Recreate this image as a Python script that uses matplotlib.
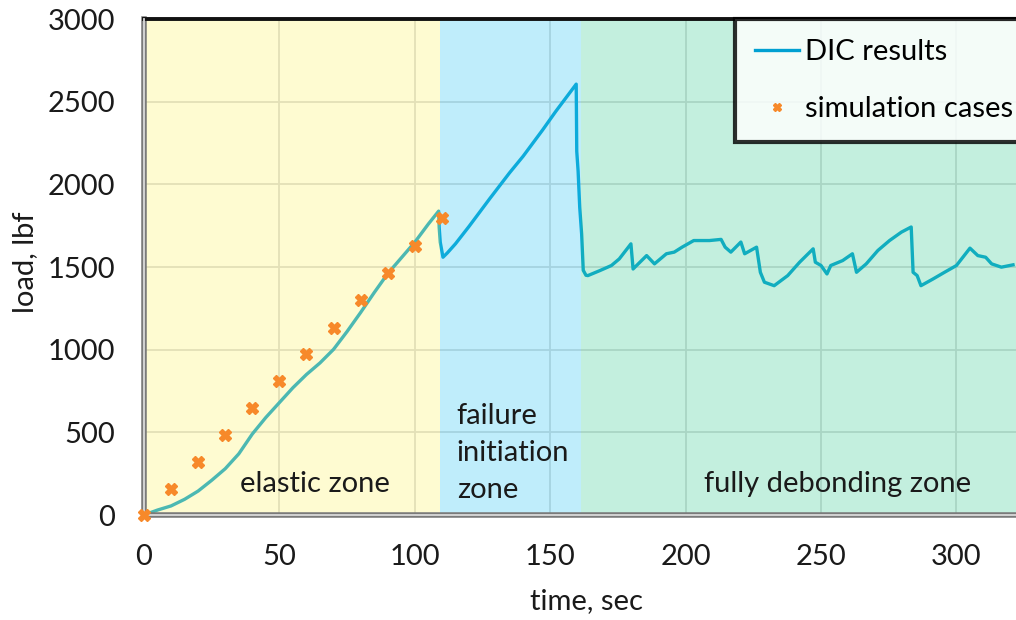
import matplotlib
matplotlib.use("Agg")
import matplotlib.pyplot as plt
from matplotlib.lines import Line2D

plt.rcParams['font.family'] = ['Lato', 'DejaVu Sans']

# DIC load history
dic_time = [0, 2, 5, 10, 15, 20, 25, 30, 35, 40, 45, 50, 55, 60, 65, 70, 75, 80,
            85, 90, 95, 100, 105, 108.8, 109.0, 109.4, 110.4, 112, 115, 120, 127.7,
            135, 140, 147.2, 152, 159.6, 159.8, 160.3, 160.9, 161.6, 162.2, 163.2,
            163.9, 168.3, 172.6, 175.5, 179.8, 180.6, 185.6, 188.5, 192.9, 195.8,
            198.7, 203, 208.8, 213.1, 214.6, 216.7, 220.4, 221.8, 226.2, 227.6,
            229.1, 232.7, 237.7, 242.1, 247.1, 247.9, 250, 252.2, 253.6, 258,
            261.6, 263.1, 266.7, 271, 275.3, 279.7, 283.3, 284, 285.5, 286.9,
            291.3, 295.6, 300, 305, 307.9, 310.8, 313, 316.6, 320.9]
dic_load = [0, 12, 30, 55, 95, 145, 210, 280, 370, 490, 590, 680, 770, 850, 920,
            1002, 1110, 1225, 1345, 1460, 1555, 1650, 1760, 1838, 1740, 1650, 1559,
            1585, 1640, 1745, 1914, 2070, 2170, 2329, 2440, 2606, 2200, 2080, 1860,
            1700, 1480, 1450, 1448, 1478, 1509, 1549, 1640, 1488, 1569, 1519, 1580,
            1590, 1620, 1660, 1660, 1667, 1620, 1590, 1651, 1580, 1620, 1468, 1408,
            1387, 1448, 1529, 1610, 1529, 1509, 1458, 1509, 1539, 1580, 1468, 1519,
            1600, 1660, 1711, 1742, 1468, 1448, 1387, 1427, 1468, 1509, 1614, 1569,
            1559, 1519, 1499, 1513]

# simulation cases
sim_time = [0, 10, 20, 30, 40, 50, 60, 70, 80, 90, 100, 110]
sim_load = [0, 158, 318, 486, 648, 810, 972, 1134, 1300, 1462, 1630, 1796]

# zones: (start, end, colour)
zones = [(0, 109.2, '#FCF269'),
         (109.2, 161.2, '#2DC6F2'),
         (161.2, 400, '#3ACD94')]

FS = 21
INK = '#1a1a1a'

fig = plt.figure(figsize=(10.16, 6.2), dpi=100)
ax = fig.add_axes([144 / 1016, 105 / 620, 1 - 144 / 1016, 496 / 620])

ax.set_axisbelow(True)
ax.grid(True, color='#D9D9D9', lw=1.3)

ax.plot(dic_time, dic_load, color='#00A0D2', lw=2.4, zorder=1.5, label='DIC results')
ax.plot(sim_time, sim_load, ls='none', marker='X', ms=9, color='#F7892A',
        mec='#F7892A', zorder=3, clip_on=False, label='simulation cases')

for x0, x1, c in zones:
    ax.axvspan(x0, x1, color=c, alpha=0.3, lw=0, zorder=2)

txt = dict(fontsize=FS, color=INK, zorder=4)
ax.text(63, 190, 'elastic zone', ha='center', va='center', **txt)
ax.text(115.5, 375, 'failure\ninitiation\nzone', ha='left', va='center',
        linespacing=1.5, **txt)
ax.text(256, 190, 'fully debonding zone', ha='center', va='center', **txt)

ax.set_xlim(0, 322)
ax.set_ylim(0, 3000)
ax.set_xticks(range(0, 301, 50))
ax.set_yticks(range(0, 3001, 500))
ax.tick_params(length=0, labelsize=FS, labelcolor=INK)
ax.tick_params(axis='x', pad=21)
ax.tick_params(axis='y', pad=21)

ax.set_xlabel('time, sec', fontsize=FS, color=INK)
ax.set_ylabel('load, lbf', fontsize=FS, color=INK)
ax.xaxis.set_label_coords((586 - 144) / 872, -0.148)
ax.yaxis.set_label_coords((38 - 144) / 872, 0.51)

ax.spines['right'].set_visible(False)
ax.spines['top'].set_color('#111111')
ax.spines['top'].set_linewidth(2.8)
for s in ('left', 'bottom'):
    ax.spines[s].set_color('#7A7A7A')
    ax.spines[s].set_linewidth(4)
# lighter inner stroke on the axis lines
ax.add_line(Line2D([0, 0], [0, 1], transform=ax.transAxes, color='#DADADA',
                   lw=1.3, zorder=2.6, clip_on=False))
ax.add_line(Line2D([0, 1], [0, 0], transform=ax.transAxes, color='#DADADA',
                   lw=1.3, zorder=2.6, clip_on=False))

leg = ax.legend(loc='upper left', bbox_to_anchor=(735 / 1016, 1 - 19 / 620),
                bbox_transform=fig.transFigure, borderaxespad=0, fontsize=FS,
                frameon=True, fancybox=False, framealpha=0.82, edgecolor='black',
                handlelength=1.5, handletextpad=0.2, labelspacing=1.05,
                borderpad=0.7, markerscale=0.7)
leg.get_frame().set_linewidth(3)
leg.set_zorder(5)

fig.savefig('out.png', dpi=100)
